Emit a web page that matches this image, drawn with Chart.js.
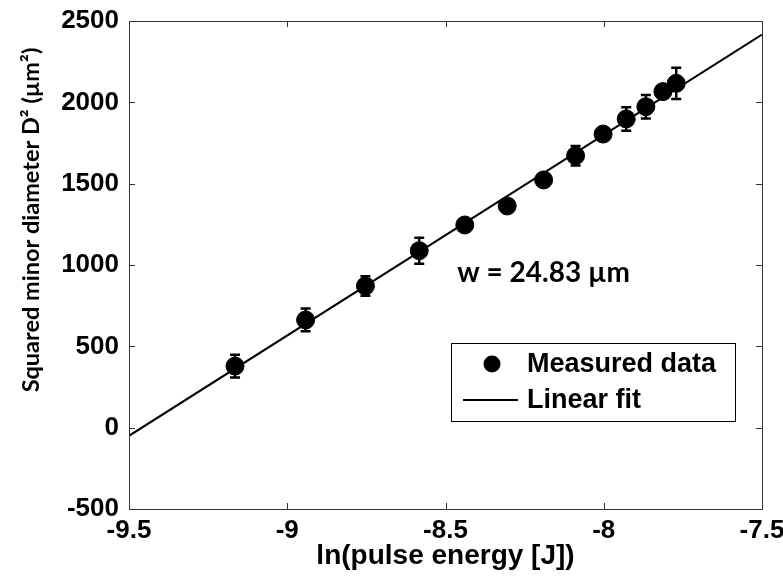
<!DOCTYPE html>
<html>
<head>
<meta charset="utf-8">
<script src="https://cdn.jsdelivr.net/npm/chart.js@4.4.1/dist/chart.umd.min.js"></script>
<style>
  html, body { margin: 0; padding: 0; background: #fff; }
  #wrap { width: 783px; height: 577px; }
</style>
</head>
<body>
<div id="wrap"><canvas id="chart" width="783" height="577"></canvas></div>
<script>
// measured points
const lnEnergy = [-9.165, -8.942, -8.753, -8.583, -8.439, -8.305, -8.190, -8.089, -8.002, -7.929, -7.867, -7.813, -7.771];
const diamSq   = [379, 662, 871, 1088, 1246, 1363, 1523, 1672, 1805, 1898, 1973, 2066, 2117];
const diamErr  = [70, 70, 60, 80, 20, 20, 20, 60, 25, 72, 72, 30, 96];

// linear fit end points
const fitX = [-9.5, -7.5];
const fitY = [-50, 2416];

const fitLabel = "w = 24.83 µm";
const yTitle = "Squared minor diameter D² (µm²)";
const xTitle = "ln(pulse energy [J])";

const tickFont = { family: "'Liberation Sans', Arial, sans-serif", size: 26, weight: "bold" };

// error bars behind the markers
const errorBars = {
  id: "errorBars",
  beforeDatasetsDraw(chart) {
    const ctx = chart.ctx;
    const xs = chart.scales.x, ys = chart.scales.y;
    ctx.save();
    ctx.strokeStyle = "#000";
    ctx.lineWidth = 2.5;
    lnEnergy.forEach((x, i) => {
      const px = xs.getPixelForValue(x);
      const top = ys.getPixelForValue(diamSq[i] + diamErr[i]);
      const bot = ys.getPixelForValue(diamSq[i] - diamErr[i]);
      ctx.beginPath();
      ctx.moveTo(px, top); ctx.lineTo(px, bot);
      ctx.moveTo(px - 5, top); ctx.lineTo(px + 5, top);
      ctx.moveTo(px - 5, bot); ctx.lineTo(px + 5, bot);
      ctx.stroke();
    });
    ctx.restore();
  }
};

// box, inward ticks, legend, annotation, y title
const decorations = {
  id: "decorations",
  afterDraw(chart) {
    const ctx = chart.ctx;
    const a = chart.chartArea;
    const xs = chart.scales.x, ys = chart.scales.y;
    ctx.save();
    ctx.strokeStyle = "#333";
    ctx.lineWidth = 1;
    ctx.strokeRect(a.left + 0.5, a.top + 0.5, a.right - a.left, a.bottom - a.top);

    ctx.beginPath();
    xs.ticks.forEach(t => {
      if (t.value <= xs.min || t.value >= xs.max) return;
      const px = Math.round(xs.getPixelForValue(t.value)) + 0.5;
      ctx.moveTo(px, a.bottom); ctx.lineTo(px, a.bottom - 6);
      ctx.moveTo(px, a.top); ctx.lineTo(px, a.top + 6);
    });
    ys.ticks.forEach(t => {
      if (t.value <= ys.min || t.value >= ys.max) return;
      const py = Math.round(ys.getPixelForValue(t.value)) + 0.5;
      ctx.moveTo(a.left, py); ctx.lineTo(a.left + 6, py);
      ctx.moveTo(a.right, py); ctx.lineTo(a.right - 6, py);
    });
    ctx.stroke();

    // legend
    const lx = a.right - 311, ly = a.bottom - 166, lw = 284, lh = 78;
    ctx.fillStyle = "#fff";
    ctx.fillRect(lx, ly, lw, lh);
    ctx.strokeStyle = "#000";
    ctx.strokeRect(lx + 0.5, ly + 0.5, lw, lh);
    ctx.fillStyle = "#000";
    ctx.beginPath();
    ctx.arc(lx + 41, ly + 21, 8.5, 0, Math.PI * 2);
    ctx.fill();
    ctx.lineWidth = 2;
    ctx.beginPath();
    ctx.moveTo(lx + 12, ly + 57); ctx.lineTo(lx + 67, ly + 57);
    ctx.stroke();
    ctx.font = "bold 27px 'Liberation Sans', Arial, sans-serif";
    ctx.textBaseline = "middle";
    ctx.textAlign = "left";
    const ds = chart.data.datasets;
    ctx.fillText(ds[0].label, lx + 76, ly + 22);
    ctx.fillText(ds[1].label, lx + 76, ly + 58);

    // fit annotation
    ctx.font = "bold 28px Lato, 'Open Sans', sans-serif";
    ctx.textAlign = "center";
    ctx.fillText(fitLabel, xs.getPixelForValue(-8.19), ys.getPixelForValue(950));

    // y title
    ctx.translate(31, 220);
    ctx.rotate(-Math.PI / 2);
    ctx.font = "bold 23.5px Lato, 'Open Sans', sans-serif";
    ctx.fillText(yTitle, 0, 0);
    ctx.restore();
  }
};

new Chart(document.getElementById("chart"), {
  type: "scatter",
  data: {
    datasets: [
      {
        label: "Measured data",
        data: lnEnergy.map((x, i) => ({ x: x, y: diamSq[i] })),
        backgroundColor: "#000",
        borderColor: "#000",
        pointRadius: 9,
        pointHoverRadius: 9,
        showLine: false,
      },
      {
        label: "Linear fit",
        data: fitX.map((x, i) => ({ x: x, y: fitY[i] })),
        borderColor: "#000",
        borderWidth: 2,
        pointRadius: 0,
        showLine: true,
        fill: false,
      },
    ],
  },
  options: {
    responsive: false,
    animation: false,
    devicePixelRatio: 1,
    layout: { padding: { top: 21, right: 21, left: 0, bottom: 0 } },
    plugins: {
      legend: { display: false },
      tooltip: { enabled: false },
    },
    scales: {
      x: {
        type: "linear",
        min: -9.5,
        max: -7.5,
        grid: { display: false, drawTicks: false },
        border: { display: false },
        ticks: {
          stepSize: 0.5, color: "#000", font: tickFont, padding: 6, maxRotation: 0,
          callback: (v) => String(v),
        },
        title: {
          display: true,
          text: xTitle,
          color: "#000",
          font: { family: "'Liberation Sans', Arial, sans-serif", size: 28, weight: "bold" },
          padding: { top: 0, bottom: 4 },
        },
        afterFit(scale) {
          scale.height = 68;
          scale.paddingLeft = 0;
          scale.paddingRight = 0;
        },
      },
      y: {
        min: -500,
        max: 2500,
        grid: { display: false, drawTicks: false },
        border: { display: false },
        ticks: { stepSize: 500, color: "#000", font: tickFont, padding: 10, callback: (v) => String(v) },
        afterFit(scale) {
          scale.width = 129;
          scale.paddingTop = 0;
          scale.paddingBottom = 0;
        },
      },
    },
  },
  plugins: [errorBars, decorations],
});
</script>
</body>
</html>
